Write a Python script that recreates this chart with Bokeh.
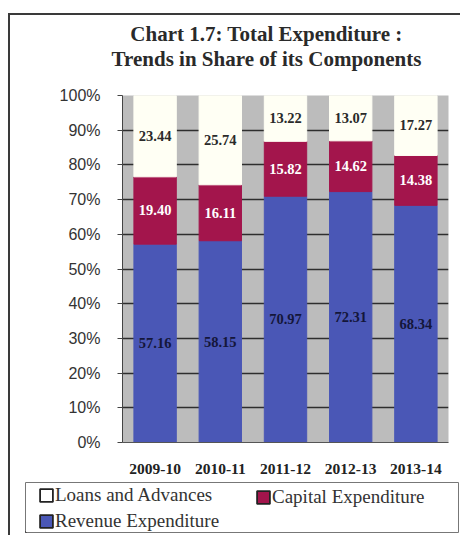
from bokeh.plotting import figure
from bokeh.layouts import column
from bokeh.models import ColumnDataSource, Legend, LegendItem, Label, FixedTicker, PrintfTickFormatter
from bokeh.core.properties import value
from bokeh.embed import file_html
from bokeh.resources import INLINE

years = ["2009-10", "2010-11", "2011-12", "2012-13", "2013-14"]
revenue = [57.16, 58.15, 70.97, 72.31, 68.34]
capital = [19.40, 16.11, 15.82, 14.62, 14.38]
loans = [23.44, 25.74, 13.22, 13.07, 17.27]
y_ticks = [0, 10, 20, 30, 40, 50, 60, 70, 80, 90, 100]
title_lines = ["Chart 1.7: Total Expenditure :", "Trends in Share of its Components"]

C_REV = "#4a57b6"
C_CAP = "#a3154c"
C_LOAN = "#fffff4"
SERIF = "Liberation Serif"

src = ColumnDataSource(dict(
    years=years,
    revenue=revenue,
    capital=capital,
    loans=loans,
    rev_mid=[r / 2 for r in revenue],
    cap_mid=[r + c / 2 for r, c in zip(revenue, capital)],
    loan_mid=[r + c + l / 2 for r, c, l in zip(revenue, capital, loans)],
    rev_lbl=["%.2f" % v for v in revenue],
    cap_lbl=["%.2f" % v for v in capital],
    loan_lbl=["%.2f" % v for v in loans],
))


def blank(w, h, **kw):
    f = figure(width=w, height=h, output_backend="svg", toolbar_location=None,
               x_axis_location=None, y_axis_location=None, **kw)
    f.frame_align = False
    f.xgrid.grid_line_color = None
    f.ygrid.grid_line_color = None
    f.border_fill_color = "white"
    f.background_fill_color = "white"
    return f


# ---- title strip ----
tf = blank(450, 65, x_range=(0, 450), y_range=(65, 0),
           min_border_left=0, min_border_right=0, min_border_top=0, min_border_bottom=0)
tf.outline_line_color = None
for txt, ty in zip(title_lines, (18, 43)):
    tf.add_layout(Label(x=256, y=ty, text=txt, text_align="center", text_baseline="middle",
                        text_font=SERIF, text_font_size="21px", text_font_style="bold",
                        text_color="#2a2a2a"))

# ---- main chart ----
p = figure(x_range=years, y_range=(0, 100), width=450, height=398,
           output_backend="svg", toolbar_location=None,
           min_border_left=112, min_border_right=12,
           min_border_top=15, min_border_bottom=36)
p.frame_align = False
p.background_fill_color = "#bcbcbc"
p.border_fill_color = "white"
p.outline_line_color = None

rends = p.vbar_stack(["revenue", "capital", "loans"], x="years", width=0.65,
                     fill_color=[C_REV, C_CAP, C_LOAN],
                     line_color=[C_REV, C_CAP, C_LOAN], source=src)

p.yaxis.ticker = FixedTicker(ticks=y_ticks)
p.yaxis.formatter = PrintfTickFormatter(format="%d%%")
p.yaxis.major_label_text_font = "Liberation Sans"
p.yaxis.major_label_text_font_size = "16px"
p.yaxis.major_label_text_color = "#333333"
p.yaxis.major_tick_out = 5
p.yaxis.major_tick_in = 0
p.yaxis.minor_tick_line_color = None
p.yaxis.axis_line_color = "#444444"
p.yaxis.major_tick_line_color = "#444444"
p.yaxis.major_label_standoff = 17

p.xaxis.major_label_text_font = SERIF
p.xaxis.major_label_text_font_style = "bold"
p.xaxis.major_label_text_font_size = "15.5px"
p.xaxis.major_label_text_color = "#222222"
p.xaxis.major_tick_line_color = None
p.xaxis.axis_line_color = "#555555"
p.xaxis.major_label_standoff = 15

p.xgrid.grid_line_color = None
p.ygrid.grid_line_color = "#2e2e2e"
p.ygrid.grid_line_width = 1.3

lbl = dict(source=src, text_align="center", text_baseline="middle",
           text_font=value(SERIF), text_font_style="bold", text_font_size="14.5px")
p.text(x="years", y="rev_mid", text="rev_lbl", text_color="#14163a", **lbl)
p.text(x="years", y="cap_mid", text="cap_lbl", text_color="white", **lbl)
p.text(x="years", y="loan_mid", text="loan_lbl", text_color="#2a2a2a", **lbl)

# ---- legend strip (its frame outline is the legend box) ----
lf = blank(450, 57, x_range=(0, 1), y_range=(0, 1),
           min_border_left=15, min_border_right=2, min_border_top=4, min_border_bottom=3)
lf.outline_line_color = "#777777"
lf.outline_line_width = 1

# swatch renderers placed outside the visible range (only their legend glyphs show)
sw = dict(x=[-5], top=[-4], bottom=[-5], width=0.1, line_color="#222222", line_width=1.8)
lg_rev = lf.vbar(fill_color=C_REV, **sw)
lg_cap = lf.vbar(fill_color=C_CAP, **sw)
lg_loan = lf.vbar(fill_color="white", **sw)

common = dict(glyph_width=16, glyph_height=16, label_standoff=1,
              label_text_font=SERIF, label_text_font_size="19px",
              label_text_color="#333333", padding=0, spacing=4, margin=0,
              label_height=19, border_line_color=None, background_fill_alpha=0)

leg1 = Legend(items=[LegendItem(label="Loans and Advances", renderers=[lg_loan]),
                     LegendItem(label="Revenue Expenditure", renderers=[lg_rev])],
              location=(13, 0), **common)
leg2 = Legend(items=[LegendItem(label="Capital Expenditure", renderers=[lg_cap])],
              location=(230, 24), **common)
lf.add_layout(leg1, "center")
lf.add_layout(leg2, "center")

layout = column(tf, p, lf, spacing=0,
                styles={"margin-left": "8px", "margin-top": "13px",
                        "border-left": "2px solid #3a3a3a",
                        "border-top": "2px solid #3a3a3a"})
open("out.html", "w").write(file_html(layout, INLINE))
